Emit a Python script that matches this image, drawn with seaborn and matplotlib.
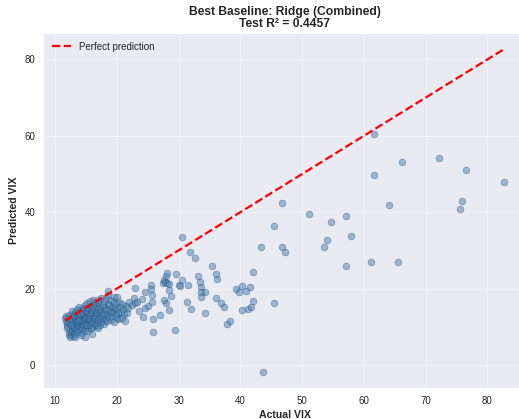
import matplotlib
matplotlib.use("Agg")
import matplotlib.pyplot as plt
import seaborn as sns
import pandas as pd

# Calm-market days (dense cluster): actual VIX and the Ridge prediction
calm_actual = [
    11.6, 11.7, 11.8, 11.9, 12.0, 12.1, 12.2, 12.3, 12.4, 12.4, 12.0, 12.2, 12.3, 12.5, 12.5,
    12.6, 12.7, 12.7, 12.8, 12.9, 12.9, 13.0, 13.0, 13.1, 13.1, 13.2, 13.2, 13.3, 13.3, 13.4,
    13.4, 12.8, 13.0, 13.2, 13.5, 13.5, 12.6, 13.1,
    13.6, 13.6, 13.7, 13.7, 13.8, 13.8, 13.9, 13.9, 14.0, 14.0, 14.1, 14.1, 14.2, 14.2, 14.3,
    14.3, 14.4, 14.4, 14.5, 14.5, 13.7, 14.0, 14.2, 14.4, 13.9,
    14.6, 14.6, 14.7, 14.7, 14.8, 14.8, 14.9, 14.9, 15.0, 15.0, 15.1, 15.1, 15.2, 15.2, 15.3,
    15.3, 15.4, 15.4, 15.5, 15.5, 14.8, 15.0, 15.2, 15.4,
    15.6, 15.6, 15.7, 15.7, 15.8, 15.8, 15.9, 15.9, 16.0, 16.0, 16.1, 16.1, 16.2, 16.2, 16.3,
    16.3, 16.4, 16.4, 16.5, 16.5, 15.9, 16.2,
    16.6, 16.6, 16.7, 16.7, 16.8, 16.8, 16.9, 17.0, 17.0, 17.1, 17.1, 17.2, 17.2, 17.3, 17.4,
    17.4, 17.5, 17.5, 16.9,
    17.6, 17.7, 17.7, 17.8, 17.8, 17.9, 18.0, 18.0, 18.1, 18.2, 18.2, 18.3, 18.4, 18.4, 18.5,
    18.6, 18.6,
    18.7, 18.7, 18.8, 18.9, 19.0, 19.0, 19.1, 19.2, 19.3, 19.4, 19.5, 19.6, 19.5,
    19.7, 19.8, 19.9, 20.0, 20.0, 20.1, 20.2, 20.3, 20.4, 20.5,
    20.6, 20.8, 20.9, 21.0, 21.2, 21.3, 21.5, 21.6, 21.9, 21.8,
    22.4, 22.7, 23.0, 23.0, 23.3, 23.6, 24.0, 24.6, 24.6, 24.2,
]
calm_predicted = [
    12.2, 11.6, 12.8, 11.0, 10.3, 12.4, 7.9, 8.6, 9.4, 7.3, 9.8, 11.3, 13.0, 10.7, 8.1,
    12.0, 13.4, 9.0, 11.5, 10.2, 7.6, 12.7, 8.5, 11.0, 9.6, 13.9, 12.2, 10.6, 8.0, 11.8,
    9.3, 14.1, 10.0, 7.2, 12.9, 10.9, 10.6, 13.1,
    14.6, 11.4, 9.9, 8.7, 13.5, 12.1, 10.5, 15.3, 11.7, 9.2, 13.0, 14.2, 10.1, 12.5, 8.4,
    11.2, 13.8, 9.7, 12.0, 15.0, 12.8, 13.4, 7.8, 10.8, 11.9,
    10.4, 13.3, 14.7, 11.6, 9.1, 12.6, 15.8, 10.9, 13.9, 12.2, 9.8, 14.4, 11.3, 16.2, 12.9,
    10.2, 13.6, 8.9, 15.1, 11.9, 7.4, 10.6, 14.9, 12.4,
    13.2, 10.5, 16.7, 12.0, 14.5, 9.6, 11.4, 15.6, 13.7, 10.9, 12.5, 17.1, 14.1, 9.9, 11.8,
    15.3, 13.0, 10.4, 16.4, 12.3, 8.2, 14.8,
    14.0, 11.1, 15.8, 12.7, 10.1, 13.5, 17.0, 11.7, 14.6, 12.2, 16.1, 10.6, 13.8, 15.2, 12.9,
    11.2, 14.3, 17.6, 9.6,
    13.1, 15.7, 11.5, 14.0, 12.4, 16.8, 13.4, 10.8, 15.0, 12.0, 17.5, 14.4, 13.0, 11.4, 16.0,
    18.4, 19.3,
    14.6, 12.6, 15.6, 13.5, 11.9, 17.0, 14.2, 12.9, 15.3, 13.8, 11.3, 17.9, 16.4,
    14.9, 13.1, 15.9, 12.4, 17.9, 14.3, 13.5, 16.5, 12.0, 15.1,
    13.9, 12.2, 16.0, 14.6, 13.3, 11.4, 15.4, 13.6, 16.6, 14.8,
    15.7, 17.5, 16.2, 20.1, 16.5, 14.1, 17.2, 19.2, 14.9, 12.6,
]

# Elevated and stressed days
stress_actual = [
    25.1, 25.7, 25.7, 25.5, 25.5, 25.9, 25.8, 27.0, 27.5, 27.6, 27.7, 27.8, 27.9, 28.0, 28.1,
    28.2, 28.4, 28.5, 28.5, 28.7, 29.4, 29.6, 30.1, 30.2, 30.5, 30.6, 31.4, 31.6, 31.9, 32.0,
    32.7, 33.1, 33.4, 33.6, 33.6, 34.2, 33.7, 34.2, 35.4, 36.0, 36.2, 36.0, 36.9, 37.3, 37.8,
    38.3, 39.3, 39.8, 40.2, 40.9, 41.5, 40.2, 41.2, 41.7, 42.0, 42.0, 43.4, 43.7, 45.4, 45.5,
    46.7, 46.8, 47.3, 51.1, 53.6, 54.0, 54.6, 57.1, 57.1, 57.9, 61.1, 61.7, 61.7, 64.0, 65.6,
    66.1, 72.1, 75.5, 75.9, 76.6, 82.7,
]
stress_predicted = [
    15.5, 16.6, 18.3, 20.9, 19.9, 12.0, 8.7, 13.0, 21.4, 22.3, 16.9, 21.6, 16.2, 23.2, 24.0,
    21.4, 14.4, 21.3, 19.7, 18.1, 9.1, 23.8, 20.9, 20.6, 22.2, 33.4, 16.6, 20.9, 29.7, 14.6,
    27.9, 23.4, 21.7, 20.3, 19.0, 19.0, 17.9, 13.7, 25.8, 23.9, 22.4, 17.6, 16.2, 15.1, 10.7,
    11.6, 19.8, 19.2, 20.6, 19.4, 20.3, 14.3, 14.6, 15.3, 16.8, 24.4, 30.8, -1.8, 36.5, 16.3,
    30.8, 42.3, 29.5, 39.5, 31.0, 32.6, 37.4, 38.9, 26.0, 33.8, 27.0, 60.5, 49.8, 41.9, 27.0,
    53.1, 54.2, 40.9, 42.9, 51.1, 47.9,
]

title_text = "Best Baseline: Ridge (Combined)\nTest R\u00b2 = 0.4457"
x_label = "Actual VIX"
y_label = "Predicted VIX"
line_label = "Perfect prediction"

df = pd.DataFrame({
    "actual": calm_actual + stress_actual,
    "predicted": calm_predicted + stress_predicted,
})

sns.set_style("darkgrid")
plt.rcParams["font.family"] = ["Liberation Sans", "DejaVu Sans"]

fig = plt.figure(figsize=(5.19, 4.19), dpi=100)
ax = fig.add_axes([43 / 519, 31 / 419, 483 / 519, 355 / 419])

sns.scatterplot(data=df, x="actual", y="predicted", ax=ax,
                color="steelblue", alpha=0.5, s=24,
                edgecolor="#1d3f63", linewidth=0.4)

lo, hi = df["actual"].min(), df["actual"].max()
ax.plot([lo, hi], [lo, hi], "r--", lw=1.6, label=line_label)

ax.grid(True, color="white", linewidth=0.6, alpha=0.45)
ax.set_title(title_text, fontsize=8.7, fontweight="bold", color="#262626",
             linespacing=1.05, pad=4)
ax.set_xlabel(x_label, fontsize=7.6, fontweight="bold", labelpad=3)
ax.set_ylabel(y_label, fontsize=7.6, fontweight="bold", labelpad=4)
ax.tick_params(labelsize=7, pad=2)
ax.legend(loc="upper left", fontsize=7, frameon=False)

fig.savefig("out.png", dpi=100)
